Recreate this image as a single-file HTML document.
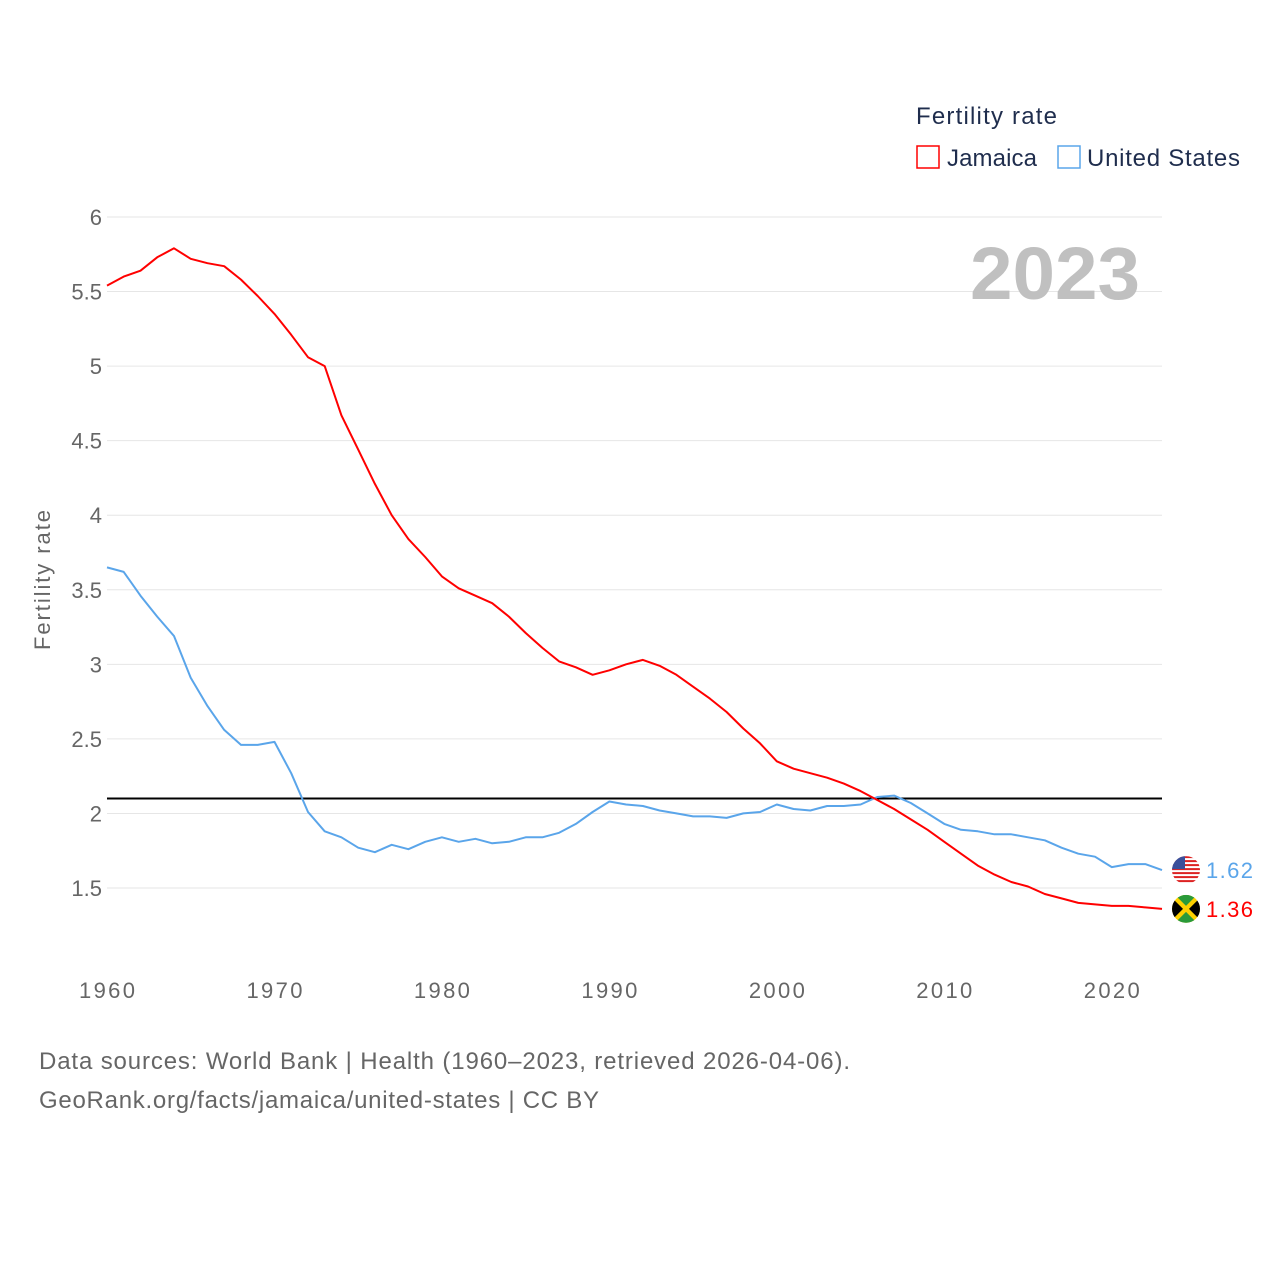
<!DOCTYPE html>
<html><head><meta charset="utf-8">
<style>
html,body{margin:0;padding:0;background:#fff;}
svg{display:block;font-family:"Liberation Sans",sans-serif;}
</style></head>
<body>
<svg id="chart" width="1280" height="1280" viewBox="0 0 1280 1280">
  <defs>
    <clipPath id="clipUS"><circle id="clipUSc" cx="1186" cy="870" r="14"/></clipPath>
    <clipPath id="clipJM"><circle id="clipJMc" cx="1186" cy="909" r="14"/></clipPath>
  </defs>
  <g id="grid"></g>
  <g id="yticks"></g>
  <g id="xticks"></g>
  <text x="1140" y="299" text-anchor="end" font-size="74" font-weight="bold" fill="#c0c0c0" textLength="170" lengthAdjust="spacingAndGlyphs">2023</text>
  <text transform="translate(50,580) rotate(-90)" text-anchor="middle" font-size="22" fill="#666" textLength="140">Fertility rate</text>
  <g>
    <text x="916" y="124" font-size="24" fill="#1f2d4d" textLength="141">Fertility rate</text>
    <g>
      <rect x="917" y="146" width="22" height="22" fill="none" stroke="#ff0000" stroke-width="1.5"/>
      <text x="947" y="166" font-size="24" fill="#1f2d4d" textLength="90">Jamaica</text>
    </g>
    <g>
      <rect x="1058" y="146" width="22" height="22" fill="none" stroke="#5aa5ea" stroke-width="1.5"/>
      <text x="1087" y="166" font-size="24" fill="#1f2d4d" textLength="153">United States</text>
    </g>
  </g>
  <g id="series"></g>
  <g>
    <text x="39" y="1069" font-size="24" fill="#666" textLength="811">Data sources: World Bank | Health (1960–2023, retrieved 2026-04-06).</text>
    <text x="39" y="1108" font-size="24" fill="#666" textLength="560">GeoRank.org/facts/jamaica/united-states | CC BY</text>
  </g>
</svg>
<script>
const years = [];
for (let y = 1960; y <= 2023; y++) years.push(y);
const jamaica = [5.54,5.60,5.64,5.73,5.79,5.72,5.69,5.67,5.58,5.47,5.35,5.21,5.06,5.00,4.67,4.44,4.21,4.00,3.84,3.72,3.59,3.51,3.46,3.41,3.32,3.21,3.11,3.02,2.98,2.93,2.96,3.00,3.03,2.99,2.93,2.85,2.77,2.68,2.57,2.47,2.35,2.30,2.27,2.24,2.20,2.15,2.09,2.03,1.96,1.89,1.81,1.73,1.65,1.59,1.54,1.51,1.46,1.43,1.40,1.39,1.38,1.38,1.37,1.36];
const unitedStates = [3.65,3.62,3.46,3.32,3.19,2.91,2.72,2.56,2.46,2.46,2.48,2.27,2.01,1.88,1.84,1.77,1.74,1.79,1.76,1.81,1.84,1.81,1.83,1.80,1.81,1.84,1.84,1.87,1.93,2.01,2.08,2.06,2.05,2.02,2.00,1.98,1.98,1.97,2.00,2.01,2.06,2.03,2.02,2.05,2.05,2.06,2.11,2.12,2.07,2.00,1.93,1.89,1.88,1.86,1.86,1.84,1.82,1.77,1.73,1.71,1.64,1.66,1.66,1.62];
const yTicks = [1.5,2,2.5,3,3.5,4,4.5,5,5.5,6];
const yTickLabels = ["1.5","2","2.5","3","3.5","4","4.5","5","5.5","6"];
const xTicks = [1960,1970,1980,1990,2000,2010,2020];
const replacementRate = 2.1;

const NS = "http://www.w3.org/2000/svg";
const X0 = 107, X1 = 1162;
const xs = yr => X0 + (yr - 1960) * (X1 - X0) / (2023 - 1960);
const ys = v => 888 - (v - 1.5) * (888 - 217) / 4.5;
function mk(tag, attrs, parent, txt) {
  const e = document.createElementNS(NS, tag);
  for (const k in attrs) e.setAttribute(k, attrs[k]);
  if (txt !== undefined) e.textContent = txt;
  parent.appendChild(e);
  return e;
}
const grid = document.getElementById('grid');
const yt = document.getElementById('yticks');
const xt = document.getElementById('xticks');
const ser = document.getElementById('series');

yTicks.forEach((v, i) => {
  const l = mk('line', {x1: X0, x2: X1, y1: ys(v), y2: ys(v), stroke: '#e6e6e6', 'stroke-width': 1}, grid);
  
  
  const t = mk('text', {x: 102, y: ys(v) + 8, 'text-anchor': 'end', 'font-size': 22, fill: '#666'}, yt, yTickLabels[i]);
  
  
});
xTicks.forEach(yr => {
  const t = mk('text', {x: xs(yr), y: 998, 'text-anchor': 'middle', 'font-size': 22, fill: '#666', textLength: 56}, xt, String(yr));
  
  
});

const ref = mk('line', {x1: X0, x2: X1, y1: ys(replacementRate), y2: ys(replacementRate), stroke: '#000', 'stroke-width': 2}, ser);



function drawLine(vals, color, name) {
  const d = vals.map((v, i) => (i ? 'L' : 'M') + xs(years[i]).toFixed(1) + ',' + ys(v).toFixed(1)).join('');
  const p = mk('path', {d: d, fill: 'none', stroke: color, 'stroke-width': 2, 'stroke-linejoin': 'round'}, ser);
  
  
}
drawLine(unitedStates, '#5aa5ea', 'line-united-states');
drawLine(jamaica, '#ff0000', 'line-jamaica');

function endLabel(vals, color, name, flag) {
  const v = vals[vals.length - 1];
  const yy = ys(v);
  const g = mk('g', {}, ser);
  
  
  const cx = 1186;
  if (flag === 'us') {
    document.getElementById('clipUSc').setAttribute('cy', yy);
    const f = mk('g', {'clip-path': 'url(#clipUS)'}, g);
    mk('rect', {x: cx - 14, y: yy - 14, width: 28, height: 28, fill: '#fff'}, f);
    for (let i = 0; i < 7; i++) mk('rect', {x: cx - 14, y: yy - 14 + i * 4, width: 28, height: 2, fill: '#d22'}, f);
    mk('rect', {x: cx - 14, y: yy - 14, width: 13, height: 13, fill: '#3a4f9a'}, f);
  } else {
    document.getElementById('clipJMc').setAttribute('cy', yy);
    const f = mk('g', {'clip-path': 'url(#clipJM)'}, g);
    mk('rect', {x: cx - 14, y: yy - 14, width: 28, height: 28, fill: '#fdd000'}, f);
    mk('path', {d: `M${cx-14},${yy-11}L${cx-3},${yy}L${cx-14},${yy+11}Z`, fill: '#000'}, f);
    mk('path', {d: `M${cx+14},${yy-11}L${cx+3},${yy}L${cx+14},${yy+11}Z`, fill: '#000'}, f);
    mk('path', {d: `M${cx-11},${yy-14}L${cx},${yy-3}L${cx+11},${yy-14}Z`, fill: '#2a9a3a'}, f);
    mk('path', {d: `M${cx-11},${yy+14}L${cx},${yy+3}L${cx+11},${yy+14}Z`, fill: '#2a9a3a'}, f);
  }
  mk('text', {x: 1206, y: yy + 8, 'font-size': 22, fill: color, textLength: 47}, g, v.toFixed(2));
}
endLabel(unitedStates, '#5aa5ea', 'end-label-united-states', 'us');
endLabel(jamaica, '#ff0000', 'end-label-jamaica', 'jm');
</script>
</body></html>
